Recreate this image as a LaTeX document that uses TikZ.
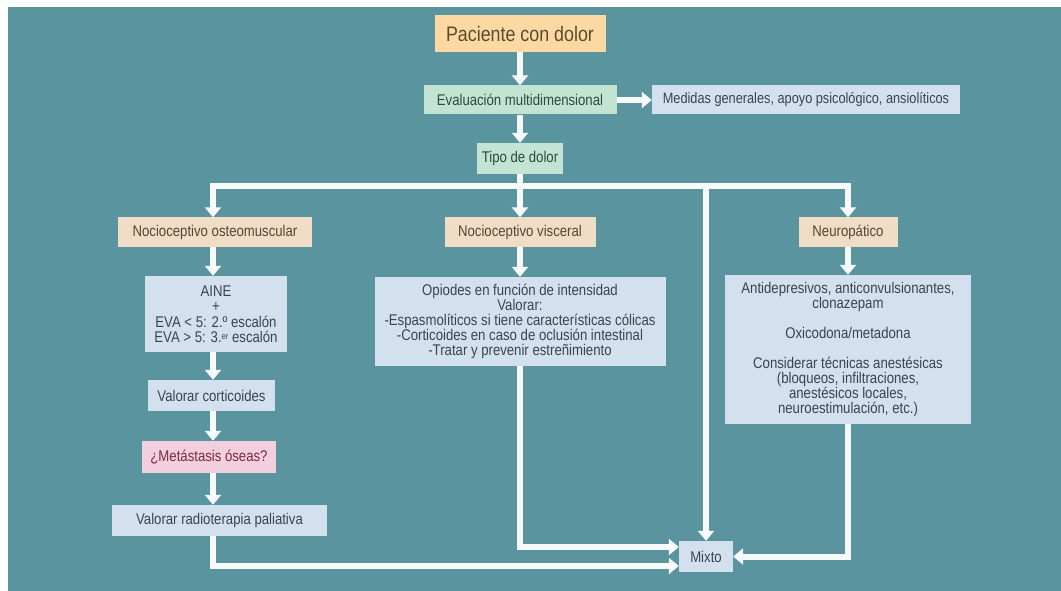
\documentclass[tikz,border=0pt]{standalone}
\usepackage{fontspec}
\setmainfont{Liberation Sans}[FakeStretch=0.85]
\usetikzlibrary{arrows.meta}
\definecolor{bgteal}{HTML}{5A949F}
\definecolor{orangef}{HTML}{FCD9A2}
\definecolor{orangetx}{HTML}{5B4A30}
\definecolor{mintf}{HTML}{C3E4D3}
\definecolor{minttx}{HTML}{2F4A40}
\definecolor{bluef}{HTML}{D3E1EF}
\definecolor{bluetx}{HTML}{3B4254}
\definecolor{beigef}{HTML}{EFDDC6}
\definecolor{beigetx}{HTML}{5A4632}
\definecolor{pinkf}{HTML}{F2CFDD}
\definecolor{pinktx}{HTML}{7A2A40}
\definecolor{arrw}{HTML}{F7FAFB}
\newcommand{\supr}[1]{\raisebox{3.5pt}{\fontsize{9}{9}\selectfont #1}}
\tikzset{
  box/.style={inner sep=0pt, align=center, font=\fontsize{15.5}{15}\selectfont},
  orangebox/.style={box, fill=orangef, text=orangetx, font=\fontsize{21}{22}\selectfont},
  mintbox/.style={box, fill=mintf, text=minttx},
  bluebox/.style={box, fill=bluef, text=bluetx},
  beigebox/.style={box, fill=beigef, text=beigetx},
  pinkbox/.style={box, fill=pinkf, text=pinktx},
  wline/.style={draw=arrw, line width=6pt},
  arr/.style={wline, -{Triangle[width=16pt,length=10pt]}},
}
\begin{document}
\begin{tikzpicture}[x=1pt,y=-1pt]
\useasboundingbox (0,0) rectangle (1061,591);
\fill[white] (0,0) rectangle (1061,591);
\fill[bgteal] (8,7) rectangle (1061,591);

% nodes
\node[orangebox, minimum width=171pt, minimum height=37pt] (pac) at (520,33.5) {Paciente con dolor};
\node[mintbox, minimum width=193pt, minimum height=29pt] (eva) at (520,100) {Evaluación multidimensional};
\node[bluebox, minimum width=308pt, minimum height=29pt, font=\fontsize{15}{15}\selectfont] (med) at (806,100) {Medidas generales, apoyo psicológico, ansiolíticos};
\node[mintbox, minimum width=86pt, minimum height=31pt] (tipo) at (520,158.5) {Tipo de dolor};

\node[beigebox, minimum width=194pt, minimum height=29pt] (ost) at (215,232) {Nocioceptivo osteomuscular};
\node[beigebox, minimum width=151pt, minimum height=29pt] (vis) at (520,232) {Nocioceptivo visceral};
\node[beigebox, minimum width=99pt, minimum height=29pt] (neu) at (848,232) {Neuropático};

\node[bluebox, minimum width=142pt, minimum height=76pt, font=\fontsize{15.5}{15.5}\selectfont] (aine) at (216,314)
  {AINE\\ +\\ EVA < 5: 2.º escalón\\ EVA > 5: 3.\supr{er} escalón};
\node[bluebox, minimum width=291pt, minimum height=89pt] (opi) at (520,321.5)
  {Opiodes en función de intensidad\\ Valorar:\\ -Espasmolíticos si tiene características cólicas\\ -Corticoides en caso de oclusión intestinal\\ -Tratar y prevenir estreñimiento};
\node[bluebox, minimum width=246pt, minimum height=149pt] (neubox) at (848,349.5)
  {Antidepresivos, anticonvulsionantes,\\ clonazepam\\[15pt] Oxicodona/metadona\\[15pt] Considerar técnicas anestésicas\\ (bloqueos, infiltraciones,\\ anestésicos locales,\\ neuroestimulación, etc.)};

\node[bluebox, minimum width=127pt, minimum height=31pt] (cort) at (211.5,395.5) {Valorar corticoides};
\node[pinkbox, minimum width=134pt, minimum height=32pt] (meta) at (209,457) {¿Metástasis óseas?};
\node[bluebox, minimum width=215pt, minimum height=31pt] (radio) at (219.5,520.5) {Valorar radioterapia paliativa};
\node[bluebox, minimum width=54pt, minimum height=31pt] (mixto) at (706,556.5) {Mixto};

% coordinates of the bus
\coordinate (bus) at (520,186);
\coordinate (busL) at (213,186);
\coordinate (busR) at (848,186);
\coordinate (busM) at (706,186);

% connectors
\draw[arr] (pac.south) -- (eva.north);
\draw[arr] (eva.east) -- (med.west);
\draw[arr] (eva.south) -- (tipo.north);
\draw[wline] (tipo.south) -- (bus);
\draw[arr] (bus) -- (busL) -- (busL |- ost.north);
\draw[arr] (bus) -- (busR) -- (busR |- neu.north);
\draw[arr] (bus) -- (vis.north);
\draw[arr] (busM) -- (mixto.north);

\draw[arr] (ost.south -| busL) -- (aine.north -| busL);
\draw[arr] (vis.south) -- (opi.north);
\draw[arr] (neu.south) -- (neubox.north);
\draw[arr] (aine.south -| busL) -- (cort.north -| busL);
\draw[arr] (cort.south -| busL) -- (meta.north -| busL);
\draw[arr] (meta.south -| busL) -- (radio.north -| busL);

\draw[arr] (radio.south -| busL) |- ([yshift=-9.5pt]mixto.west);
\draw[arr] (opi.south) |- ([yshift=9.5pt]mixto.west);
\draw[arr] (neubox.south) |- (mixto.east);
\end{tikzpicture}
\end{document}
